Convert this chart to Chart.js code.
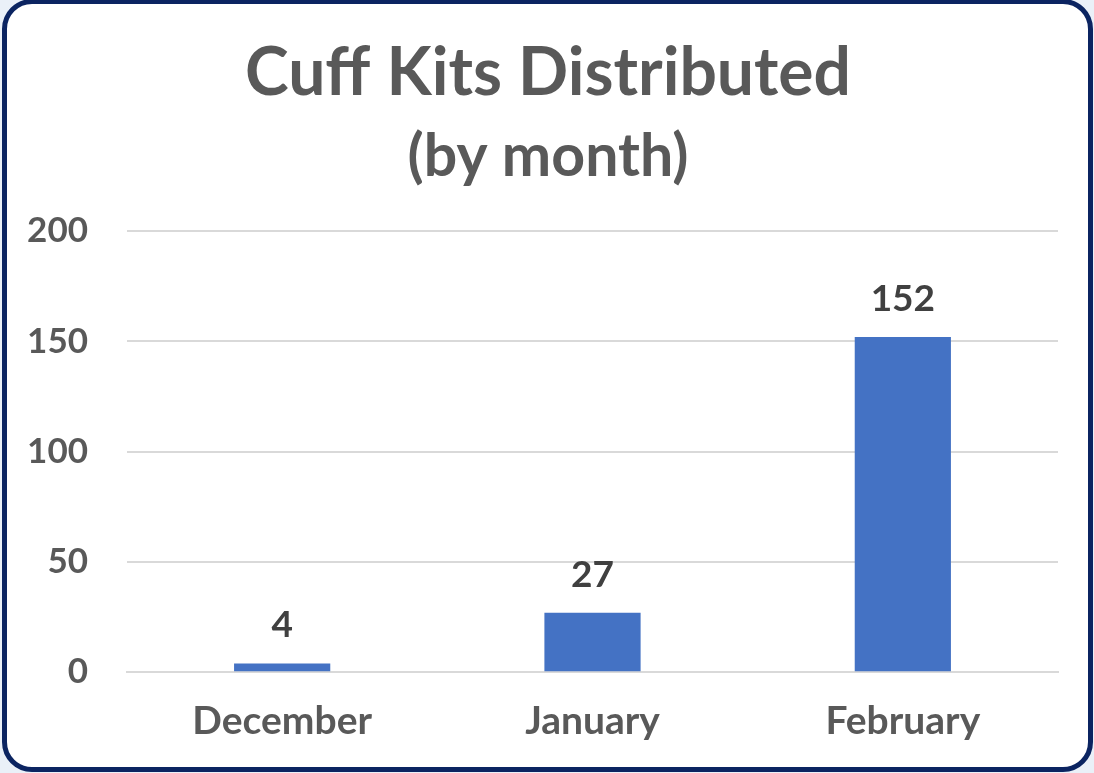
<!DOCTYPE html>
<html>
<head>
<meta charset="utf-8">
<script src="https://cdn.jsdelivr.net/npm/chart.js@4.4.1/dist/chart.umd.min.js"></script>
<style>
  html, body { margin: 0; padding: 0; background: #eaf0f8; }
  #wrap { position: absolute; left: 0; top: 0; width: 1094px; height: 773px; }
  #frame { position: absolute; left: 2px; top: -1px; width: 1081px; height: 763px;
           border: 5px solid #0b2461; border-radius: 30px; background: #ffffff; }
  canvas { position: absolute; left: 0; top: 0; }
</style>
</head>
<body>
<div id="wrap">
  <div id="frame"></div>
  <canvas id="c" width="1094" height="773"></canvas>
</div>
<script>
const categories = ["December", "January", "February"];
const kitsDistributed = [4, 27, 152];
const yTicks = [0, 50, 100, 150, 200];

const FONT = "Lato, 'Open Sans', sans-serif";

const valueLabels = {
  id: 'valueLabels',
  afterDatasetsDraw(chart) {
    const ctx = chart.ctx;
    const meta = chart.getDatasetMeta(0);
    ctx.save();
    ctx.font = "bold 37px " + FONT;
    ctx.fillStyle = "#404040";
    ctx.textAlign = "center";
    ctx.textBaseline = "alphabetic";
    meta.data.forEach((el, i) => {
      ctx.fillText(String(chart.data.datasets[0].data[i]), el.x, el.y - 26);
    });
    ctx.restore();
  }
};

new Chart(document.getElementById('c'), {
  type: 'bar',
  data: {
    labels: categories,
    datasets: [{
      data: kitsDistributed,
      backgroundColor: '#4472c4',
      barPercentage: 0.31,
      categoryPercentage: 1.0
    }]
  },
  options: {
    responsive: false,
    animation: false,
    layout: { padding: { left: 2, right: 0, top: 0, bottom: 2 } },
    plugins: {
      legend: { display: false },
      tooltip: { enabled: false },
      title: {
        display: true,
        text: 'Cuff Kits Distributed',
        color: '#595959',
        font: { family: FONT, size: 66, weight: 'bold' },
        padding: { top: 34, bottom: 0 }
      },
      subtitle: {
        display: true,
        text: '(by month)',
        color: '#595959',
        font: { family: FONT, size: 59, weight: 'bold' },
        padding: { top: 8, bottom: 39 }
      }
    },
    scales: {
      x: {
        grid: { display: false, drawTicks: false },
        border: { display: true, color: '#d9d9d9', width: 2 },
        ticks: { color: '#595959', font: { family: FONT, size: 39, weight: 'bold' }, padding: 26 }
      },
      y: {
        min: 0, max: 200,
        afterBuildTicks(axis) { axis.ticks = yTicks.map(v => ({ value: v })); },
        afterFit(axis) { axis.width = 125; },
        grid: { color: '#d9d9d9', lineWidth: 2, drawTicks: false },
        border: { display: false },
        ticks: { color: '#595959', font: { family: FONT, size: 35, weight: 'bold' }, padding: 39 }
      },
      ySpacer: {
        type: 'linear',
        position: 'right',
        display: true,
        grid: { display: false, drawTicks: false },
        border: { display: false },
        ticks: { display: false },
        afterFit(axis) { axis.width = 36; }
      }
    }
  },
  plugins: [valueLabels]
});
</script>
</body>
</html>
